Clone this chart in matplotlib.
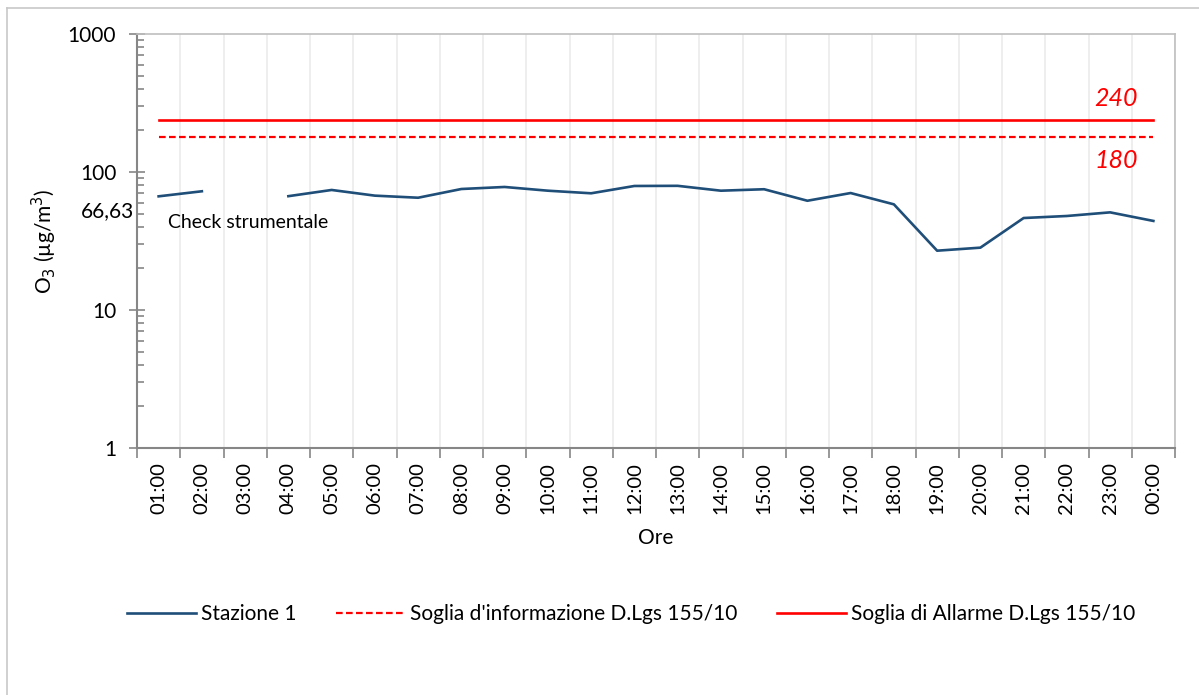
import matplotlib.pyplot as plt
import matplotlib.ticker as mticker
from matplotlib.lines import Line2D
import numpy as np

plt.rcParams['font.family'] = ['Lato', 'DejaVu Sans']

ore = ['01:00', '02:00', '03:00', '04:00', '05:00', '06:00', '07:00', '08:00',
       '09:00', '10:00', '11:00', '12:00', '13:00', '14:00', '15:00', '16:00',
       '17:00', '18:00', '19:00', '20:00', '21:00', '22:00', '23:00', '00:00']
stazione1 = [66.63, 72.5, np.nan, 66.8, 74.1, 67.4, 65.1, 75.3, 77.9, 73.2, 70.1, 79.2,
             79.4, 73.2, 75.0, 61.9, 70.4, 58.3, 26.9, 28.3, 46.4, 48.0, 51.0, 44.2]
soglia_info = [180] * 24
soglia_allarme = [240] * 24

W, H = 1199, 695
fig = plt.figure(figsize=(W / 100, H / 100), dpi=100)
ax = fig.add_axes([137 / W, 1 - 448 / H, (1175 - 137) / W, (448 - 34) / H])

x = np.arange(len(ore))
ax.plot(x, stazione1, color='#1F4E79', lw=1.9, label='Stazione 1')
ax.plot(x, soglia_info, color='#FF0000', lw=1.6, ls=(0, (3, 1.5)),
        label="Soglia d'informazione D.Lgs 155/10")
ax.plot(x, soglia_allarme, color='#FF0000', lw=1.9,
        label='Soglia di Allarme D.Lgs 155/10')

ax.set_yscale('log')
ax.set_ylim(1, 1000)
ax.set_xlim(-0.5, len(ore) - 0.5)

ax.yaxis.set_major_locator(mticker.FixedLocator([1, 10, 100, 1000]))
ax.yaxis.set_major_formatter(mticker.FuncFormatter(lambda v, p: '%d' % v))
ax.yaxis.set_minor_locator(mticker.LogLocator(base=10, subs=np.arange(2, 10)))
ax.yaxis.set_minor_formatter(mticker.NullFormatter())
ax.tick_params(axis='y', which='major', direction='inout', length=12, width=1.2,
               color='#868686', labelsize=15, pad=9)
ax.tick_params(axis='y', which='minor', direction='in', length=5, width=1.2,
               color='#868686')

ax.set_xticks(x)
ax.set_xticklabels(ore, rotation=90, fontsize=14.5)
ax.set_xticks(np.arange(-0.5, len(ore)), minor=True)
ax.tick_params(axis='x', which='major', length=0, pad=10)
ax.tick_params(axis='x', which='minor', direction='out', length=7, width=1.2,
               color='#868686')
ax.grid(axis='x', which='minor', color='#ebebeb', lw=1.2)
ax.set_axisbelow(True)

for s in ['left', 'bottom']:
    ax.spines[s].set_color('#868686')
    ax.spines[s].set_linewidth(1.5)
for s in ['top', 'right']:
    ax.spines[s].set_color('#bfbfbf')
    ax.spines[s].set_linewidth(1.2)

ax.set_xlabel('Ore', fontsize=15, labelpad=10)
ax.set_ylabel('O$_3$ (µg/m$^3$)', fontsize=15, labelpad=6)

ax.text(22.64, 240 * 1.17, '240', color='#FF0000', fontsize=18, style='italic',
        ha='right', va='bottom')
ax.text(22.64, 180 / 1.22, '180', color='#FF0000', fontsize=18, style='italic',
        ha='right', va='top')
ax.text(0.22, 43.4, 'Check strumentale', fontsize=14, va='center')
fig.text(134 / W, 1 - 211 / H, '66,63', fontsize=15, ha='right', va='center')

fig.legend(loc='center', bbox_to_anchor=(631 / W, 1 - 614 / H), ncol=3,
           frameon=False, fontsize=15, handlelength=3.3, columnspacing=1.9,
           handletextpad=0.25)

# chart area border (only left/top visible)
fig.add_artist(Line2D([7 / W, 7 / W], [0, 1 - 8 / H], transform=fig.transFigure,
                      color='#c8c8c8', lw=1.2))
fig.add_artist(Line2D([7 / W, 1], [1 - 8 / H, 1 - 8 / H], transform=fig.transFigure,
                      color='#c8c8c8', lw=1.2))

fig.savefig('out.png', dpi=100)
